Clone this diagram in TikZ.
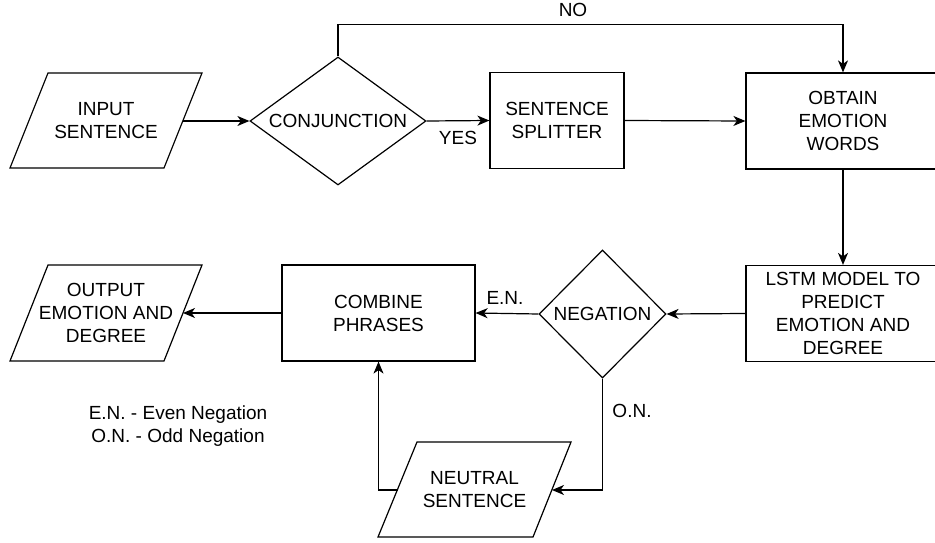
\documentclass[tikz,border=0pt]{standalone}
\usepackage{fontspec}
\setmainfont{Liberation Sans}
\usetikzlibrary{shapes.geometric,arrows.meta}
\begin{document}
\begin{tikzpicture}[x=1pt,y=-1pt,
  font=\fontsize{19}{23}\selectfont,
  line width=1.2pt,
  box/.style={draw, rectangle, inner sep=0pt, align=center},
  dia/.style={draw, diamond, inner sep=0pt, align=center},
  para/.style={draw, line join=miter},
  lbl/.style={inner sep=0pt, align=center},
  arr/.style={-{Stealth[length=12pt,width=10pt,inset=3.5pt]}}
]
\useasboundingbox (0,0) rectangle (935,543);
\fill[white] (0,0) rectangle (935,543);

% parallelograms
\draw[para] (48,73) -- (202,73) -- (164,168) -- (10,168) -- cycle;
\node[lbl] (in) at (106,120.5) {INPUT\\SENTENCE};
\coordinate (inR) at (183,121);

\draw[para] (48,265) -- (202,265) -- (164,361) -- (10,361) -- cycle;
\node[lbl] (out) at (106,313) {OUTPUT\\EMOTION AND\\DEGREE};
\coordinate (outR) at (183,313);

\draw[para] (417,442) -- (571,442) -- (533,537) -- (378,537) -- cycle;
\node[lbl] (neu) at (474.5,490) {NEUTRAL\\SENTENCE};
\coordinate (neuL) at (397.5,490);
\coordinate (neuR) at (552,490);

% boxes
\node[box, minimum width=134pt, minimum height=96pt] (split) at (557,120.5) {SENTENCE\\SPLITTER};
\node[box, minimum width=194pt, minimum height=96pt] (obtain) at (843,121) {OBTAIN\\EMOTION\\WORDS};
\node[box, minimum width=194pt, minimum height=96pt] (lstm) at (843,313.5) {LSTM MODEL TO\\PREDICT\\EMOTION AND\\DEGREE};
\node[box, minimum width=193pt, minimum height=96pt] (comb) at (378.5,313) {COMBINE\\PHRASES};

% diamonds
\node[dia, aspect=1.375, minimum width=176pt, minimum height=128pt] (conj) at (338,121) {CONJUNCTION};
\node[dia, aspect=1, minimum width=127pt, minimum height=128pt] (neg) at (602.5,314) {NEGATION};

% connectors
\draw[arr] (inR) -- (conj.west);
\draw[arr] (conj.east) -- (split.west);
\draw[arr] (split.east) -- (obtain.west);
\draw[arr] (conj.north) -- ++(0,-32) -| (obtain.north);
\draw[arr] (obtain.south) -- (lstm.north);
\draw[arr] (lstm.west) -- (neg.east);
\draw[arr] (neg.west) -- (comb.east);
\draw[arr] (comb.west) -- (outR);
\draw[arr] (neg.south) |- (neuR);
\draw[arr] (neuL) -| (comb.south);

% labels
\node[lbl] (no) at (573,10) {NO};
\node[lbl] (yes) at (458,138) {YES};
\node[lbl] (en) at (505,298) {E.N.};
\node[lbl] (on) at (632,411) {O.N.};
\node[lbl] (legend) at (178,426.5) {E.N. - Even Negation\\O.N. - Odd Negation};
\end{tikzpicture}
\end{document}
